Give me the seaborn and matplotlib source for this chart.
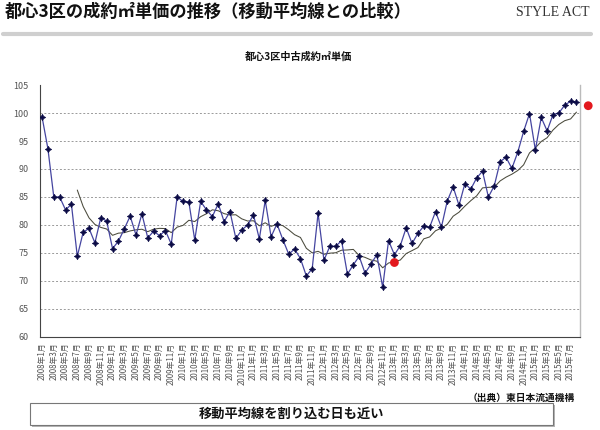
import numpy as np
import pandas as pd
import matplotlib
matplotlib.use("Agg")
import matplotlib.pyplot as plt
import seaborn as sns
from matplotlib.patches import Rectangle
from matplotlib.lines import Line2D

# ---------------- data ----------------
months = [f"{2008 + i // 12}年{i % 12 + 1}月" for i in range(92)]
price = [
    99.3, 93.6, 85.0, 85.0, 82.7, 83.7, 74.4, 78.7, 79.4, 76.8, 81.3, 80.7,
    75.8, 77.1, 79.3, 81.6, 78.2, 82.0, 77.7, 78.9, 78.1, 79.0, 76.6, 85.0,
    84.2, 84.1, 77.3, 84.2, 82.7, 81.5, 83.8, 80.6, 82.4, 77.6, 79.1, 80.0,
    81.8, 77.5, 84.4, 77.9, 80.2, 77.4, 74.8, 75.7, 74.0, 70.9, 72.2, 82.1,
    73.7, 76.2, 76.2, 77.2, 71.2, 72.9, 74.4, 71.4, 73.0, 74.7, 68.9, 77.2,
    74.7, 76.3, 79.5, 76.7, 78.5, 79.8, 79.6, 82.4, 79.6, 84.3, 86.8, 83.5,
    87.4, 86.4, 88.4, 89.6, 85.0, 87.0, 91.3, 92.1, 90.1, 93.0, 96.7, 99.9,
    93.4, 99.2, 96.8, 99.7, 100.0, 101.4, 102.1, 101.9,
]
ma_window = 7
red_idx = [60, 93]
red_val = [73.3, 101.3]
yticks = [60, 65, 70, 75, 80, 85, 90, 95, 100, 105]

title = "都心3区の成約㎡単価の推移（移動平均線との比較）"
brand = "STYLE ACT"
chart_title = "都心3区中古成約㎡単価"
source = "（出典）東日本流通機構"
comment = "移動平均線を割り込む日も近い"

# ---------------- style ----------------
sns.set_style("white")
plt.rcParams["font.family"] = ["Noto Sans CJK JP", "DejaVu Sans"]

df = pd.DataFrame({"idx": np.arange(len(price)), "price": price})
df["ma"] = df["price"].rolling(ma_window).mean()

fig = plt.figure(figsize=(6, 4.3), dpi=100)
ax = fig.add_axes([40 / 600, 1 - 337 / 430, 540 / 600, 252 / 430])

for v in yticks[1:-1]:
    ax.axhline(v, color="#9a9a9a", lw=0.7, ls=(0, (2, 2)), zorder=0)

sns.lineplot(data=df, x="idx", y="price", ax=ax, color="#4545a0", lw=0.9,
             marker=(4, 1, 0), markersize=4.6, markerfacecolor="#0b0b45",
             markeredgecolor="#0b0b45", markeredgewidth=0.5, zorder=3)
sns.lineplot(data=df.dropna(), x="idx", y="ma", ax=ax, color="#4a4a3c",
             lw=0.75, zorder=2)
sns.scatterplot(x=red_idx, y=red_val, ax=ax, color="#e3191e", s=40,
                edgecolor="none", zorder=5, clip_on=False)

ax.set_xlim(-0.35, 91.6)
ax.set_ylim(60, 105)
ax.set_yticks(yticks)
ax.set_yticklabels([str(v) for v in yticks])
ax.set_xticks(df["idx"][::2])
ax.set_xticklabels(months[::2], rotation=90)
ax.set_xlabel("")
ax.set_ylabel("")

ax.tick_params(axis="x", direction="in", length=3, width=0.6, color="#555555",
               labelsize=5.7, labelcolor="#555555", pad=4)
ax.tick_params(axis="y", length=0, labelsize=6.5, labelcolor="#555555", pad=8)

ax.spines["top"].set_visible(False)
ax.spines["left"].set_color("#444444")
ax.spines["left"].set_linewidth(0.8)
ax.spines["bottom"].set_color("#444444")
ax.spines["bottom"].set_linewidth(0.8)
ax.spines["right"].set_color("#bbbbbb")
ax.spines["right"].set_linewidth(1.0)

# ---------------- header ----------------
fig.text(0.008, 1 - 11.5 / 430, title, fontsize=12.4, fontweight="bold",
         va="center", ha="left", color="#111111")
fig.text(0.982, 1 - 12.5 / 430, brand, fontsize=10, va="center", ha="right",
         family="Liberation Serif", color="#333333")
fig.add_artist(Line2D([0.005, 0.985], [1 - 34 / 430, 1 - 34 / 430],
                      color="#cfcfcf", lw=3, transform=fig.transFigure))
fig.text(0.497, 1 - 57 / 430, chart_title, fontsize=7.3, fontweight="bold",
         va="center", ha="center", color="#111111")

# ---------------- footer ----------------
fig.text(575 / 600, 1 - 398 / 430, source, fontsize=7, fontweight="bold",
         va="center", ha="right", color="#111111")
fig.add_artist(Rectangle((32 / 600, 1 - 427 / 430), 523 / 600, 22 / 430,
                         transform=fig.transFigure, facecolor="#b5b5b5",
                         edgecolor="none", zorder=1))
fig.add_artist(Rectangle((30 / 600, 1 - 425 / 430), 523 / 600, 22 / 430,
                         transform=fig.transFigure, facecolor="white",
                         edgecolor="#777777", lw=0.8, zorder=2))
fig.text(291.5 / 600, 1 - 414 / 430, comment, fontsize=9.5, fontweight="bold",
         va="center", ha="center", color="#111111", zorder=3)

fig.savefig("out.png", dpi=100)
